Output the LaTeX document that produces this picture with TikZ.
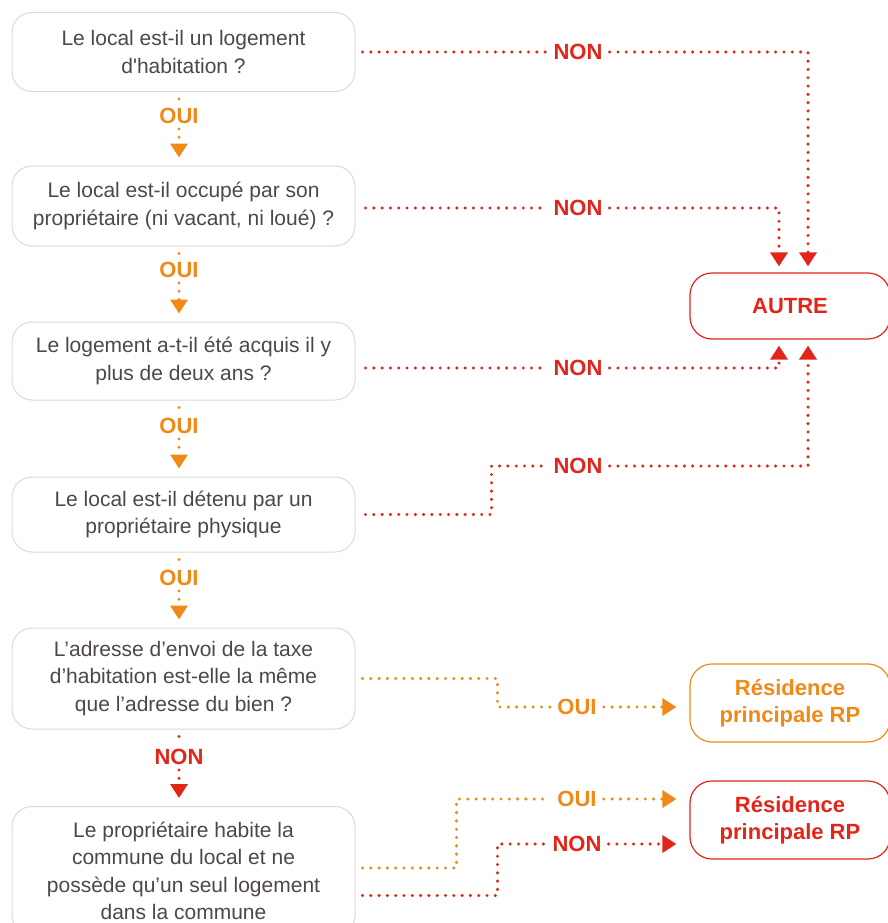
\documentclass[tikz,border=0pt]{standalone}
\usepackage{fontspec}
\setmainfont{Liberation Sans}
\usetikzlibrary{arrows.meta}
\definecolor{rougeNon}{RGB}{227,37,25}
\definecolor{orangeOui}{RGB}{240,137,22}
\definecolor{texteGris}{RGB}{78,71,69}
\definecolor{bordGris}{RGB}{218,218,218}
\begin{document}
\begin{tikzpicture}[x=1pt,y=-1pt,
    question/.style={draw=bordGris,line width=1pt,rounded corners=20pt,minimum width=343pt,
        align=center,text=texteGris,font=\fontsize{21}{27.5}\selectfont},
    resultat/.style={draw=#1,line width=1.2pt,rounded corners=22pt,minimum width=200pt,
        align=center,text=#1,font=\fontsize{22}{27}\selectfont\bfseries},
    reponse/.style={text=#1,font=\fontsize{22}{26}\selectfont\bfseries,inner xsep=7pt,inner ysep=5pt},
    pointille/.style={draw=#1,line width=3.4pt,line cap=round,dash pattern=on 0pt off 8.3pt,
        -{Triangle[width=17pt,length=14pt]}}]
\useasboundingbox (0,0) rectangle (888,923);
% questions
\node[question,minimum height=79pt] (q1) at (183.5,52) {Le local est-il un logement\\d\textquotesingle habitation ?};
\node[question,minimum height=80pt] (q2) at (183.5,206) {Le local est-il occupé par son\\propriétaire (ni vacant, ni loué) ?};
\node[question,minimum height=78pt] (q3) at (183.5,361) {Le logement a-t-il été acquis il y\\plus de deux ans ?};
\node[question,minimum height=75pt] (q4) at (183.5,514.5) {Le local est-il détenu par un\\propriétaire physique};
\node[question,minimum height=101pt] (q5) at (183.5,678.5) {L’adresse d’envoi de la taxe\\d’habitation est-elle la même\\que l’adresse du bien ?};
\node[question,minimum height=129pt] (q6) at (183.5,871) {Le propriétaire habite la\\commune du local et ne\\possède qu’un seul logement\\dans la commune};
% resultats
\node[resultat=rougeNon,minimum height=66pt] (autre) at (790,306) {AUTRE};
\node[resultat=orangeOui,minimum height=78pt] (rp1) at (790,703) {Résidence\\principale RP};
\node[resultat=rougeNon,minimum height=78pt] (rp2) at (790,820) {Résidence\\principale RP};
% reponses
\node[reponse=orangeOui] (oui1) at (179,116) {OUI};
\node[reponse=orangeOui] (oui2) at (179,270) {OUI};
\node[reponse=orangeOui] (oui3) at (179,426) {OUI};
\node[reponse=orangeOui] (oui4) at (179,578) {OUI};
\node[reponse=rougeNon] (non5) at (179,757) {NON};
\node[reponse=rougeNon] (non1) at (578,52) {NON};
\node[reponse=rougeNon] (non2) at (578,208) {NON};
\node[reponse=rougeNon] (non3) at (578,368) {NON};
\node[reponse=rougeNon] (non4) at (578,466) {NON};
\node[reponse=orangeOui] (oui5) at (577,707) {OUI};
\node[reponse=orangeOui] (oui6) at (577,799) {OUI};
\node[reponse=rougeNon] (non6) at (577,844) {NON};
% fleches verticales
\draw[pointille=orangeOui,shorten >=8pt] ([yshift=-7pt]q1.south -| oui1) -- (oui1) -- (q2.north -| oui1);
\draw[pointille=orangeOui,shorten >=8pt] ([yshift=-7pt]q2.south -| oui2) -- (oui2) -- (q3.north -| oui2);
\draw[pointille=orangeOui,shorten >=8pt] ([yshift=-7pt]q3.south -| oui3) -- (oui3) -- (q4.north -| oui3);
\draw[pointille=orangeOui,shorten >=8pt] ([yshift=-7pt]q4.south -| oui4) -- (oui4) -- (q5.north -| oui4);
\draw[pointille=rougeNon,shorten >=8pt] ([yshift=-7pt]q5.south -| non5) -- (non5) -- (q6.north -| non5);
% vers AUTRE
\draw[pointille=rougeNon,shorten >=6pt] ([xshift=7pt]q1.east |- non1) -- (non1) -| ([xshift=18pt]autre.north);
\draw[pointille=rougeNon,shorten >=6pt] ([xshift=10pt]q2.east |- non2) -- (non2) -| ([xshift=-11pt]autre.north);
\draw[pointille=rougeNon,shorten >=6pt] ([xshift=10pt]q3.east |- non3) -- (non3) -| ([xshift=-11pt]autre.south);
\draw[pointille=rougeNon,shorten >=6pt] ([xshift=10pt]q4.east) -- ++(126,0) |- (non4) -| ([xshift=18pt]autre.south);
% vers RP
\draw[pointille=orangeOui,shorten >=13pt] ([xshift=7pt]q5.east) -- ++(135,0) |- (oui5) -- (oui5 -| rp1.west);
\draw[pointille=orangeOui,shorten >=13pt] ([xshift=7pt,yshift=3pt]q6.east) -- ++(94,0) |- (oui6) -- (oui6 -| rp2.west);
\draw[pointille=rougeNon,shorten >=13pt] ([xshift=7pt,yshift=-24.5pt]q6.east) -- ++(135,0) |- (non6) -- (non6 -| rp2.west);
\end{tikzpicture}
\end{document}
